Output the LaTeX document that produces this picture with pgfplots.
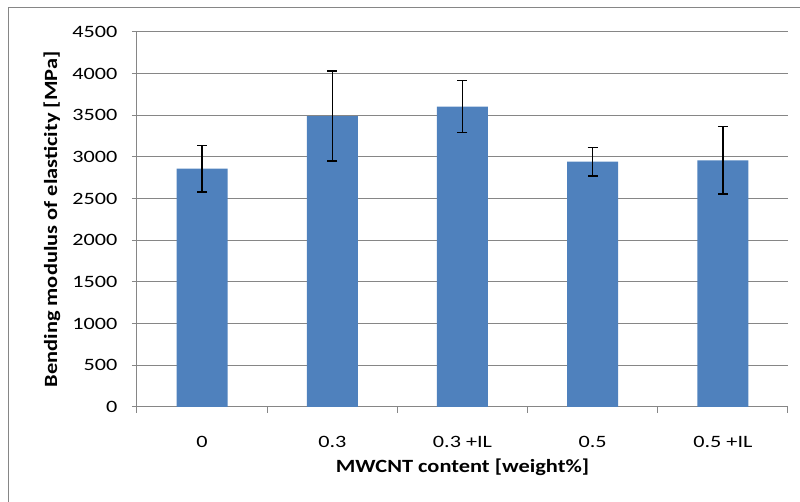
\documentclass[border=0pt]{standalone}
\usepackage{pgfplots}
\pgfplotsset{compat=1.18}
\usepackage{fontspec}
\setmainfont{Carlito}
\newfontfamily\widefont{Carlito}[FakeStretch=1.28]
\newfontfamily\labelfont{Carlito}[FakeStretch=1.2]
\definecolor{barblue}{HTML}{4F81BD}
\definecolor{gridgray}{HTML}{868686}
\begin{document}
\begin{tikzpicture}[x=1pt,y=1pt]
\useasboundingbox (-102.75,-71.25) rectangle (497.25,305.25);
\draw[gridgray, line width=0.75pt] (-96,-80) -- (-96,299.25) -- (510,299.25);
\begin{axis}[
  at={(0,0)}, anchor=south west,
  scale only axis, width=488.25pt, height=281.25pt,
  xmin=-0.5, xmax=4.5, ymin=0, ymax=4500,
  ybar,
  ytick={0,500,...,4500},
  /pgf/number format/assume math mode=true,
  /pgf/number format/1000 sep={},
  xtick={0,...,4}, xticklabels={0,0.3,0.3 +IL,0.5,0.5 +IL},
  minor xtick={-0.5,0.5,...,4.5},
  separate axis lines,
  axis x line*=bottom, axis y line*=left,
  x axis line style={-}, y axis line style={-},
  axis line style={gridgray, line width=0.75pt},
  ymajorgrids, grid style={gridgray, line width=0.75pt},
  major x tick style={draw=none},
  major y tick style={gridgray, line width=0.75pt},
  minor x tick style={gridgray, line width=0.75pt},
  tick align=outside,
  major tick length=3.75pt, minor tick length=4.5pt,
  ticklabel style={font=\widefont\fontsize{13}{15}\selectfont, text=black},
  xticklabel style={anchor=center, yshift=-22.5pt},
  yticklabel style={anchor=east, xshift=-7.5pt},
  xlabel={\bfseries MWCNT content [weight\%]},
  xlabel style={font=\labelfont\fontsize{14}{16}\selectfont, at={(rel axis cs:0.5,0)}, anchor=center, yshift=-45pt},
  ylabel={\bfseries Bending modulus of elasticity [MPa]},
  ylabel style={font=\labelfont\fontsize{14}{16}\selectfont, at={(rel axis cs:0,0.5)}, anchor=center, yshift=63.75pt},
]
\addplot[fill=barblue, draw=none, bar width=38.25pt,
  error bars/.cd, y dir=both, y explicit,
  error bar style={black, line width=1pt},
  error mark options={rotate=90, black, mark size=3.75pt, line width=1pt}]
coordinates {
  (0,2860) +- (0,280)
  (1,3490) +- (0,540)
  (2,3605) +- (0,310)
  (3,2945) +- (0,172)
  (4,2960) +- (0,404)
};
\end{axis}
\end{tikzpicture}
\end{document}
